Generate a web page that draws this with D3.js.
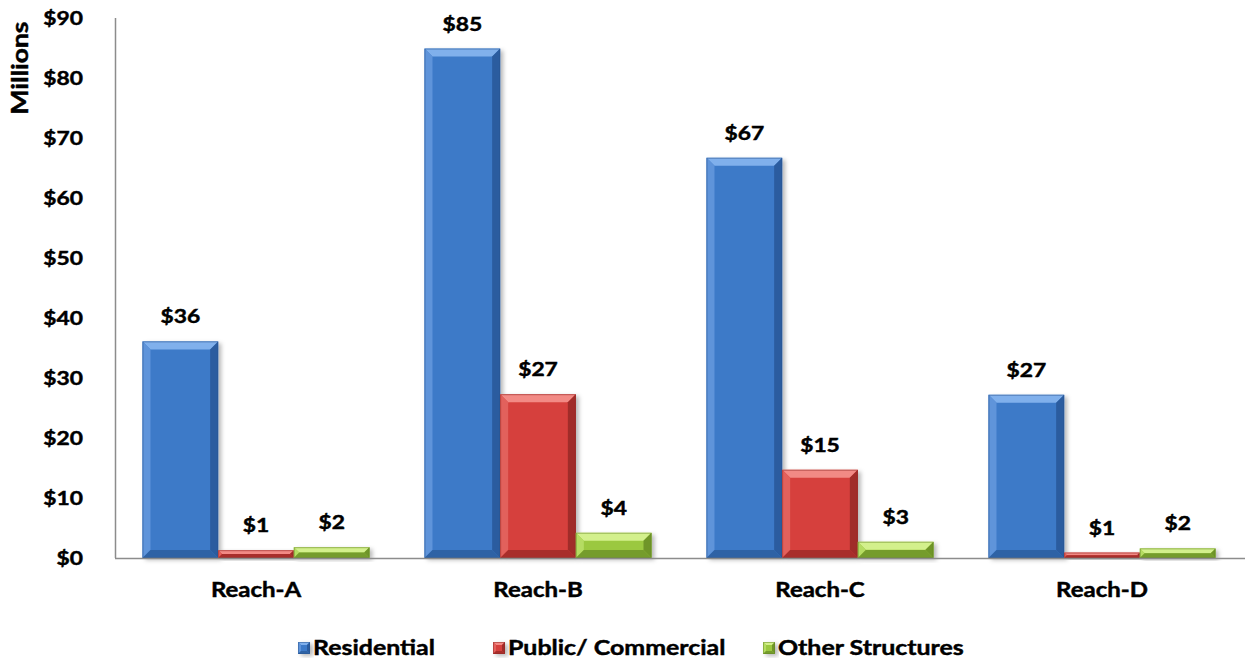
<!DOCTYPE html>
<html>
<head>
<meta charset="utf-8">
<script src="https://cdn.jsdelivr.net/npm/d3@7"></script>
<style>
  html, body { margin: 0; padding: 0; background: #fff; }
  svg { display: block; }
  text { font-family: Lato, "Open Sans", sans-serif; font-weight: 700; fill: #000; stroke: #000; stroke-width: 0.45px; }
</style>
</head>
<body>
<svg id="chart" width="1245" height="660"></svg>
<script>
// Damages by reach and structure type, in millions of dollars
const reaches = ["Reach-A", "Reach-B", "Reach-C", "Reach-D"];
const seriesNames = ["Residential", "Public/ Commercial", "Other Structures"];
const residential = [36.1, 84.9, 66.7, 27.2];
const publicCommercial = [1.3, 27.3, 14.7, 0.9];
const otherStructures = [1.8, 4.2, 2.7, 1.6];
const yTicks = [0, 10, 20, 30, 40, 50, 60, 70, 80, 90];

const seriesValues = [residential, publicCommercial, otherStructures];
const palette = [
  { face: "#3d7ac8", top: "#80b0ec", left: "#5f94da", right: "#2b5c9f", bottom: "#2e62a5" },
  { face: "#d63f3c", top: "#f28a85", left: "#e2615c", right: "#a02c29", bottom: "#a82e2b" },
  { face: "#9bc83f", top: "#d3f08c", left: "#b5dc62", right: "#6f9528", bottom: "#759c2c" }
];

const svg = d3.select("#chart");
const W = 1245, H = 660;
const margin = { left: 115, right: 2, top: 18, bottom: 102 };

const x0 = d3.scaleBand().domain(reaches).range([margin.left, W - margin.right])
  .paddingInner(0.195).paddingOuter(0.0975);
const x1 = d3.scaleBand().domain(seriesNames).range([0, x0.bandwidth()]).padding(0);
const y = d3.scaleLinear().domain([0, 90]).range([H - margin.bottom, margin.top]);

const money = d3.format(".0f");
const stretch = 1.17;

// Horizontally widened text helper
function label(g, x, yy, txt, anchor, size) {
  return g.append("text")
    .attr("transform", `translate(${x},${yy}) scale(${stretch},1)`)
    .attr("text-anchor", anchor)
    .attr("font-size", size)
    .text(txt);
}

const defs = svg.append("defs");
const shadow = defs.append("filter").attr("id", "shadow")
  .attr("x", "-20%").attr("y", "-20%").attr("width", "150%").attr("height", "150%");
shadow.append("feDropShadow").attr("dx", 3).attr("dy", 2).attr("stdDeviation", 2.2)
  .attr("flood-color", "#000").attr("flood-opacity", 0.28);

// Beveled bar: face plus four edge facets
function bevelBar(g, bx, by, bw, bh, c, bev) {
  const b = Math.min(bev, bh / 2, bw / 2);
  const grp = g.append("g");
  grp.append("rect").attr("x", bx).attr("y", by).attr("width", bw).attr("height", bh)
    .attr("fill", c.face).attr("filter", "url(#shadow)");
  const poly = (pts, fill) => grp.append("polygon")
    .attr("points", pts.map(p => p.join(",")).join(" ")).attr("fill", fill);
  poly([[bx, by], [bx + bw, by], [bx + bw - b, by + b], [bx + b, by + b]], c.top);
  poly([[bx, by], [bx + b, by + b], [bx + b, by + bh - b], [bx, by + bh]], c.left);
  poly([[bx + bw, by], [bx + bw, by + bh], [bx + bw - b, by + bh - b], [bx + bw - b, by + b]], c.right);
  poly([[bx, by + bh], [bx + b, by + bh - b], [bx + bw - b, by + bh - b], [bx + bw, by + bh]], c.bottom);
  grp.append("rect").attr("x", bx + 0.5).attr("y", by + 0.5).attr("width", Math.max(0, bw - 1)).attr("height", Math.max(0, bh - 1))
    .attr("fill", "none").attr("stroke", d3.color(c.right).darker(0.3)).attr("stroke-opacity", 0.5).attr("stroke-width", 1);
}

// Y axis tick labels
const yAxisG = svg.append("g");
yTicks.forEach(t => {
  label(yAxisG, 83, y(t) + 7, "$" + t, "end", 19.5);
});

// Axis title
svg.append("text")
  .attr("transform", `translate(28,68) rotate(-90) scale(1.2,1)`)
  .attr("text-anchor", "middle").attr("font-size", 22)
  .text("Millions");

// Bars
const barsG = svg.append("g");
reaches.forEach((r, i) => {
  seriesNames.forEach((s, j) => {
    const v = seriesValues[j][i];
    const bx = x0(r) + x1(s);
    const by = y(v);
    bevelBar(barsG, bx, by, x1.bandwidth(), y(0) - by, palette[j], 8);
  });
});

// Axis lines
svg.append("line").attr("x1", margin.left + 0.5).attr("x2", margin.left + 0.5)
  .attr("y1", margin.top).attr("y2", y(0)).attr("stroke", "#8c8c8c").attr("stroke-width", 1.5);
svg.append("line").attr("x1", margin.left).attr("x2", W)
  .attr("y1", y(0) + 0.5).attr("y2", y(0) + 0.5).attr("stroke", "#8c8c8c").attr("stroke-width", 1.5);

// Value labels
const valG = svg.append("g");
reaches.forEach((r, i) => {
  seriesNames.forEach((s, j) => {
    const v = seriesValues[j][i];
    label(valG, x0(r) + x1(s) + x1.bandwidth() / 2, y(v) - 18, "$" + money(v), "middle", 19.5);
  });
});

// Category labels
const catG = svg.append("g");
reaches.forEach(r => {
  label(catG, x0(r) + x0.bandwidth() / 2, 597, r, "middle", 20.5);
});

// Legend
const legG = svg.append("g");
const legendX = [298, 493, 763];
seriesNames.forEach((s, j) => {
  bevelBar(legG, legendX[j], 642, 12, 12, palette[j], 3);
  label(legG, legendX[j] + 15, 655, s, "start", 21.3);
});
</script>
</body>
</html>
